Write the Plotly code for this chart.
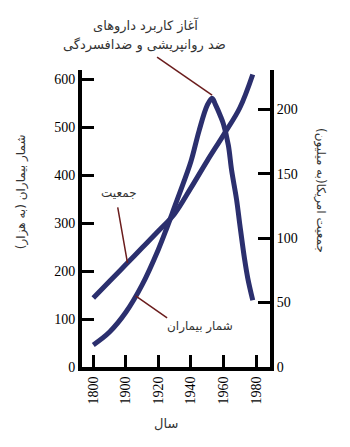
import numpy as np
import plotly.graph_objects as go

# ---- data ----
tick_years = [1800, 1900, 1920, 1940, 1960, 1980]
tick_labels = ["1800", "1900", "1920", "1940", "1960", "1980"]

patient_years = [1800, 1850, 1900, 1910, 1920, 1925, 1930, 1935, 1940, 1945,
                 1950, 1953, 1955, 1958, 1960, 1963, 1965, 1968, 1970, 1973,
                 1975, 1978]
patients = [46, 73, 114, 171, 245, 288, 334, 380, 428, 492,
            545, 560, 547, 524, 506, 462, 410, 350, 298, 224,
            184, 139]  # thousands

pop_years = [1800, 1850, 1900, 1910, 1920, 1930, 1940, 1950, 1960, 1970, 1978]
population = [53.5, 66.5, 79.5, 92.5, 105.5, 119, 139, 160, 180, 201, 227]  # millions

left_ticks = [0, 100, 200, 300, 400, 500, 600]
right_ticks = [0, 50, 100, 150, 200]

title_line1 = "آغاز کاربرد داروهای"
title_line2 = "ضد روانپریشی و ضدافسردگی"
pop_label = "جمعیت"
pat_label = "شمار بیماران"
left_title = "شمار بیماران (به هزار)"
right_title = "جمعیت امریکا(به میلیون)"
x_title = "سال"

X_RANGE = [-0.347, 5.43]
Y_RANGE = [0, 618.75]
Y2_RANGE = [0, 230.5]

W, H = 350, 447
M = dict(l=82, r=80, t=70, b=80)
PLOT_W = W - M["l"] - M["r"]
PLOT_H = H - M["t"] - M["b"]


def to_pos(year):
    """Broken time axis: 1800-1900 spans one step, afterwards 20-year steps."""
    year = np.asarray(year, dtype=float)
    return np.where(year < 1900, (year - 1800) / 100.0, 1 + (year - 1900) / 20.0)


CURVE = "#2b2f6e"
POINTER = "#6b1d1d"
TXT = "#333333"
PFONT = "DejaVu Sans"
NFONT = "Liberation Serif"

fig = go.Figure()
fig.add_trace(go.Scatter(x=to_pos(pop_years), y=population, yaxis="y2", mode="lines",
                         line=dict(color=CURVE, width=5, shape="spline", smoothing=1),
                         showlegend=False, hoverinfo="skip"))
fig.add_trace(go.Scatter(x=to_pos(patient_years), y=patients, yaxis="y", mode="lines",
                         line=dict(color=CURVE, width=5, shape="spline", smoothing=1),
                         showlegend=False, hoverinfo="skip"))

axis_common = dict(showline=True, linewidth=4, linecolor="black", ticks="inside",
                   ticklen=12, tickwidth=3, tickcolor="black", showgrid=False,
                   zeroline=False, tickfont=dict(family=NFONT, size=14, color="black"))

fig.update_layout(
    width=W, height=H,
    margin=M,
    paper_bgcolor="white", plot_bgcolor="white",
    xaxis=dict(range=X_RANGE, tickmode="array", tickvals=to_pos(tick_years),
               ticktext=tick_labels, tickangle=-90, **axis_common),
    yaxis=dict(range=Y_RANGE, tickmode="array", tickvals=left_ticks, **axis_common),
    yaxis2=dict(range=Y2_RANGE, tickmode="array", tickvals=right_ticks,
                overlaying="y", side="right", **axis_common),
)


def txt(text, x, y, angle=0, size=13):
    fig.add_annotation(text=text, x=x, y=y, xref="paper", yref="paper", showarrow=False,
                       xanchor="center", yanchor="middle", textangle=angle,
                       font=dict(family=PFONT, size=size, color=TXT))


txt(title_line1, 0.340, 1.1515)
txt(title_line2, 0.335, 1.084)
txt(pop_label, 0.197, 0.586, size=12)
txt(pat_label, 0.628, 0.135, size=12)
txt(left_title, -0.324, 0.589, angle=-90, size=12)
txt(right_title, 1.266, 0.596, angle=90, size=12)
txt(x_title, 0.447, -0.189, size=13)

# pointer from the caption to the peak of the patient curve (drawn unclipped in paper space)
pk = int(np.argmax(patients))
tip_x = (float(to_pos(patient_years[pk])) - X_RANGE[0]) / (X_RANGE[1] - X_RANGE[0])
tip_y = (patients[pk] - Y_RANGE[0]) / (Y_RANGE[1] - Y_RANGE[0]) + 3 / PLOT_H
fig.add_shape(type="line", xref="paper", yref="paper",
              x0=tip_x - 55 / PLOT_W, y0=tip_y + 38 / PLOT_H, x1=tip_x, y1=tip_y,
              line=dict(color=POINTER, width=1.5), layer="above")

# pointers to the two curve labels
ptr = dict(showarrow=True, arrowhead=0, arrowwidth=1.5, arrowcolor=POINTER, text="")
fig.add_annotation(x=float(to_pos(1901)), y=float(np.interp(1901, pop_years, population)),
                   xref="x", yref="y2", ax=-10, ay=-57, **ptr)
fig.add_annotation(x=float(to_pos(1906)), y=float(np.interp(1906, patient_years, patients)),
                   xref="x", yref="y", ax=33, ay=23, **ptr)

fig.write_html("out.html")
